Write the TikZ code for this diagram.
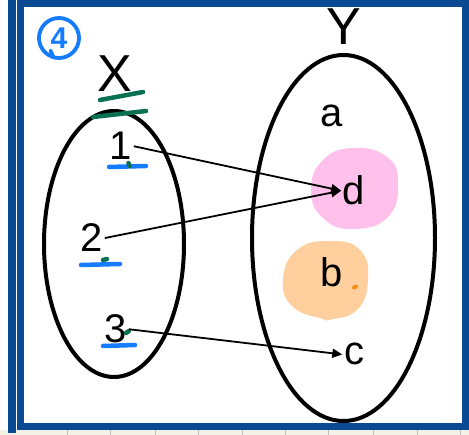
\documentclass[tikz,border=0pt]{standalone}
\usepackage{fontspec}
\setmainfont{Liberation Sans}
\usetikzlibrary{arrows.meta}
\definecolor{frameblue}{RGB}{10,74,146}
\definecolor{penblue}{RGB}{22,124,255}
\definecolor{pengreen}{RGB}{10,112,82}
\definecolor{blobpink}{RGB}{255,192,235}
\definecolor{blorange}{RGB}{255,208,158}
\definecolor{dotorange}{RGB}{240,144,32}
\definecolor{cream}{RGB}{244,242,230}
\tikzset{
  lbl/.style={font=\fontsize{40}{40}\selectfont, inner sep=1.5pt, anchor=base},
  setlbl/.style={font=\fontsize{52}{52}\selectfont, inner sep=0pt, anchor=base},
  setline/.style={line width=4pt, black},
  maparrow/.style={line width=1.8pt, black, -{Triangle[length=10pt,width=9pt]}},
  underblue/.style={line width=4.5pt, penblue, line cap=round},
  undergreen/.style={line width=4.5pt, pengreen, line cap=round},
}
\begin{document}
\begin{tikzpicture}[x=1pt,y=-1pt]
\useasboundingbox (0,0) rectangle (469,435);
\fill[white] (0,0) rectangle (469,435);
\fill[cream] (0,430) rectangle (469,435);
\foreach \gx in {67,110,155,198,242,285,328,373,417,460}
  \draw[black!25, line width=0.7pt] (\gx,430) -- (\gx,435);
\fill[frameblue] (8,0) rectangle (16,433);
\draw[frameblue, line width=7pt] (20.5,3.5) rectangle (465.5,426.5);

% circled four
\node[draw=penblue, circle, line width=3.8pt, minimum size=40pt, inner sep=0pt,
      text=penblue, font=\fontsize{30}{30}\selectfont\bfseries] (four) at (59,38) {4};
\draw[penblue, line width=3.8pt, line cap=round] (four.south west) ++(7,-3) -- ++(3,7);

% sets
\draw[setline] (114,244) ellipse [x radius=70pt, y radius=133pt];
\draw[setline] (343.5,238) ellipse [x radius=91.5pt, y radius=183pt];
\node[setlbl] (X) at (115,92) {X};
\node[setlbl] (Y) at (343.5,45) {Y};
\draw[undergreen] (100,100) -- (143,92);
\draw[undergreen] (93,117) -- (146,111);

% blobs
\fill[blobpink] plot[smooth cycle, tension=0.8] coordinates
  {(353,148) (387,157) (398,183) (388,217) (353,229) (323,218) (311,190) (323,160)};
\fill[blorange] plot[smooth cycle, tension=0.8] coordinates
  {(330,241) (360,250) (368,280) (357,310) (328,320) (323,319) (293,307) (283,280) (297,250)};
\fill[dotorange, rotate around={25:(355,287)}] (355,287) ellipse [x radius=3.5pt, y radius=2.2pt];

% domain labels
\node[lbl] (n1) at (121,160) {1};
\node[lbl] (n2) at (92,252) {2};
\node[lbl] (n3) at (116,343) {3};
\draw[underblue] (109,167) -- (146,166);
\draw[underblue] (81,265) -- (120,264);
\draw[underblue] (103,346) -- (135,345);
\draw[undergreen] (128.5,163) -- (129.5,166);
\draw[undergreen] (103,260) -- (107,259);
\draw[undergreen] (126,333) -- (129,331);

% codomain labels
\node[lbl] (a) at (332,127) {a};
\node[lbl] (d) at (354,205) {d};
\node[lbl] (b) at (332,287) {b};
\node[lbl] (c) at (354,365) {c};

% arrows
\draw[maparrow] (n1.east) -- (d.west);
\draw[maparrow] (n2.east) -- (d.west);
\draw[maparrow] (n3.east) -- (c.west);
\end{tikzpicture}
\end{document}
